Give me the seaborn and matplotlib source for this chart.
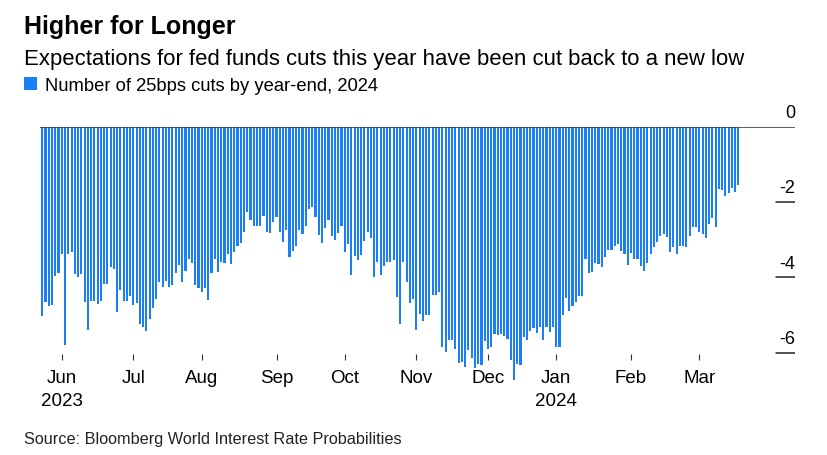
import pandas as pd
import seaborn as sns
import matplotlib.pyplot as plt

# number of 25bp cuts priced for year-end 2024, one value per business day
cuts_2023 = [
    -5.03, -4.66, -4.77, -4.73, -3.97, -3.87, -3.38, -5.80, -3.38, -3.33,
    -3.91, -4.00, -3.91, -4.66, -5.40, -4.62, -4.64, -4.71, -4.62, -4.18,
    -4.18, -3.73, -3.78, -4.93, -4.33, -4.62, -4.62, -4.50, -4.73, -4.68,
    -5.24, -5.33, -5.43, -5.10, -4.82, -4.58, -4.13,
    -4.25, -4.10, -4.26, -4.20, -3.87, -3.67, -4.13, -3.82, -3.51, -3.63,
    -4.19, -4.29, -4.40, -4.29, -4.59, -3.87, -3.51, -3.85, -3.58, -3.63,
    -3.38, -3.64, -3.32, -3.16, -3.09, -2.80, -2.27, -2.46, -2.62, -2.62,
    -2.64, -2.38, -2.80, -2.83, -2.52, -2.39, -2.80,
    -3.05, -2.74, -3.45, -3.29, -3.16, -2.74, -2.85, -2.64, -2.18, -2.12,
    -2.40, -2.87, -3.09, -2.69, -2.47, -2.89, -3.00, -2.83, -2.62, -3.32,
    -3.11, -3.94, -3.42, -3.55, -3.40, -3.02, -2.80, -2.96, -4.00, -3.58,
    -3.94, -3.69, -3.60, -3.58, -3.55, -4.53, -5.24,
    -3.58, -4.13, -4.68, -4.57, -5.39, -4.97, -5.17, -5.00, -5.00, -4.47,
    -4.47, -4.38, -5.86, -5.98, -5.66, -5.66, -5.90, -6.28, -6.26, -6.39,
    -5.92, -6.13, -6.42, -6.30, -6.33, -5.68, -5.90, -5.86, -5.51, -5.53,
    -5.51, -5.55, -5.64, -6.19, -6.72, -6.30,
    -6.32, -5.59, -5.66, -5.42, -5.35, -5.49, -5.33, -5.66, -5.33, -5.46,
    -5.31,
]
cuts_2024 = [
    -5.84, -5.84, -5.00, -4.56, -4.89, -4.77, -4.65, -4.50, -4.49, -3.51,
    -3.87, -3.85, -3.63, -3.64, -3.71, -3.47, -3.27, -3.26, -3.16, -3.11,
    -3.29, -3.38, -3.67, -3.36, -3.51, -3.51, -3.69,
    -3.82, -3.62, -3.38, -3.18, -3.07, -2.89, -2.85, -2.93, -3.33, -3.20,
    -3.38, -3.16, -3.16, -3.18, -2.89, -2.67, -2.67, -2.80, -2.85, -2.96,
    -2.58, -2.43, -2.65, -1.65, -1.67, -1.84, -1.76, -1.62, -1.74, -1.53,
]
start_date = "2023-05-24"
end_date = "2024-03-19"
y_ticks = [0, -2, -4, -6]
series_label = "Number of 25bps cuts by year-end, 2024"

BLUE = "#1a7ef7"
W, H = 827, 456

sns.set_theme(style="white")
plt.rcParams["font.family"] = ["Liberation Sans", "DejaVu Sans"]
plt.rcParams["text.color"] = "black"

dates = pd.bdate_range(start_date, end_date)
df = pd.DataFrame({"date": dates, "cuts": cuts_2023 + cuts_2024})
df["day"] = df["date"].dt.strftime("%Y-%m-%d")

fig = plt.figure(figsize=(W / 100, H / 100), dpi=100)
ax = fig.add_axes([40 / W, 1 - 383.7 / H, (795 - 40) / W, (383.7 - 128) / H])

sns.barplot(data=df, x="day", y="cuts", color=BLUE, saturation=1,
            width=0.66, linewidth=0, errorbar=None, ax=ax, label=series_label)

ax.set_xlim(-0.71, 231.4)
ax.set_ylim(-6.8, 0)
for s in ax.spines.values():
    s.set_visible(False)
ax.spines["bottom"].set_position(("data", -6.04))
ax.set_xlabel("")
ax.set_ylabel("")

# month ticks at first business day of each month
first = df.groupby(df["date"].dt.to_period("M")).head(1)
first = first[first["date"] >= "2023-06-01"]
tick_pos = list(first.index)
tick_lab = []
for d in first["date"]:
    lab = d.strftime("%b")
    if d.month == 6 and d.year == 2023 or d.month == 1:
        lab += "\n" + str(d.year)
    tick_lab.append(lab)
ax.set_xticks(tick_pos, tick_lab)
ax.tick_params(axis="x", bottom=True, length=4, width=0.8, color="#333333",
               pad=7, labelsize=13.5, labelcolor="black")
for t in ax.get_xticklabels():
    t.set_linespacing(1.45)

# right-side value labels sitting above short tick lines
ax.set_yticks([])
ax.axhline(0, color="#333333", lw=1.1, zorder=5)
for v in y_ticks:
    if v != 0:
        ax.axhline(v, xmin=0.975, xmax=1, color="#222222", lw=1.1)
    ax.annotate(str(v), xy=(1, v), xycoords=ax.get_yaxis_transform(),
                xytext=(0, 7), textcoords="offset points",
                ha="right", va="baseline", fontsize=13)

ax.legend(loc="upper left", bbox_to_anchor=(24 / W, 1 - 78 / H),
          bbox_transform=fig.transFigure, frameon=False, fontsize=13.2,
          handlelength=0.7, handleheight=0.7, handletextpad=0.45,
          borderaxespad=0, borderpad=0)

fig.text(24 / W, 1 - 34 / H, "Higher for Longer", fontsize=18,
         fontweight="bold", va="baseline")
fig.text(24 / W, 1 - 65 / H,
         "Expectations for fed funds cuts this year have been cut back to a new low",
         fontsize=15.9, va="baseline")
fig.text(24 / W, 1 - 444 / H, "Source: Bloomberg World Interest Rate Probabilities",
         fontsize=11.7, va="baseline", color="#222222")

fig.savefig("out.png", dpi=100)
